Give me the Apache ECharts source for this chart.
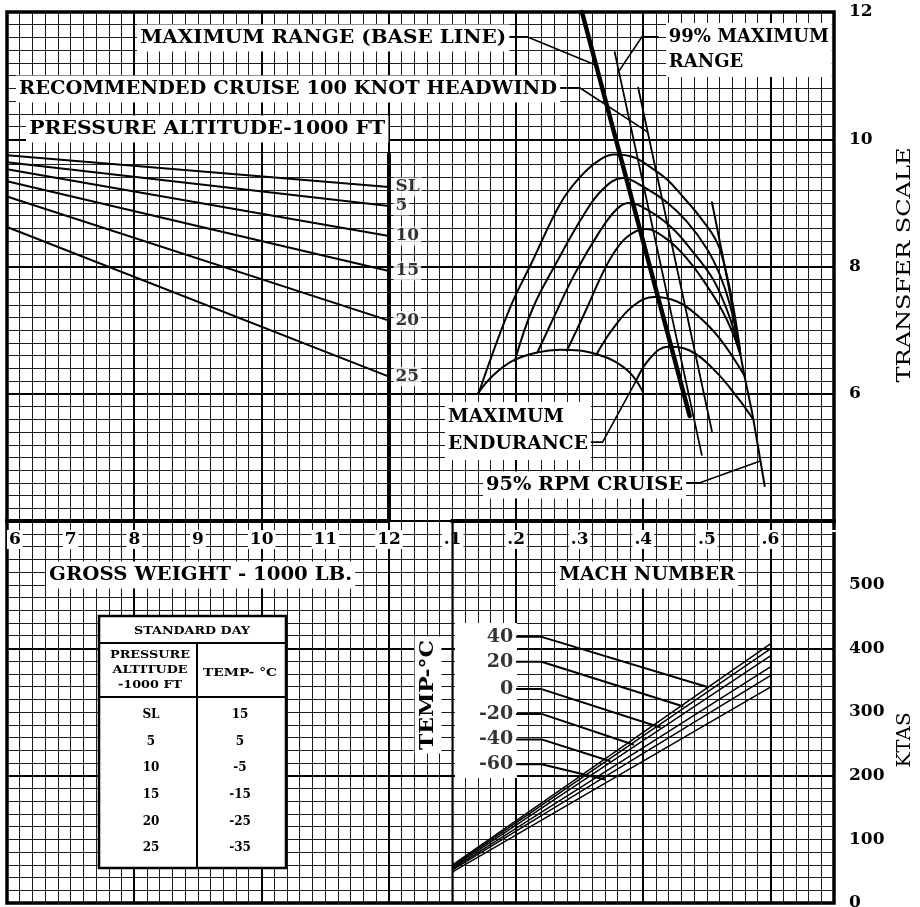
<!DOCTYPE html>
<html>
<head>
<meta charset="utf-8">
<title>Cruise chart</title>
<script src="https://cdn.jsdelivr.net/npm/echarts@6.0.0/dist/echarts.min.js"></script>
<style>
html,body{margin:0;padding:0;background:#fff;}
#chart{width:920px;height:907px;}
</style>
</head>
<body>
<div id="chart"></div>
<script>
// ================= DATA =================
const grossWeightTicks = [6, 7, 8, 9, 10, 11, 12];
const machTicks = [0.1, 0.2, 0.3, 0.4, 0.5, 0.6];
const transferTicks = [6, 8, 10, 12];
const ktasTicks = [0, 100, 200, 300, 400, 500];

// Upper left: pressure altitude lines (transfer scale vs gross weight)
const altitudeNames = ['SL', '5', '10', '15', '20', '25'];
const altitudeGrossWeight = [6, 12];
const altitudeTransferAt6 = [9.75, 9.64, 9.53, 9.34, 9.10, 8.62];
const altitudeTransferAt12 = [9.25, 8.95, 8.48, 7.93, 7.15, 6.27];

// Upper right: cruise arches (Mach, transfer scale)
const archSLMach = [0.1415, 0.190, 0.225, 0.269, 0.300, 0.332, 0.355, 0.384, 0.410, 0.437, 0.462, 0.489, 0.516, 0.531, 0.542, 0.552];
const archSLTransfer = [6.02, 7.34, 8.07, 8.98, 9.40, 9.68, 9.76, 9.72, 9.57, 9.37, 9.10, 8.78, 8.38, 7.88, 7.34, 6.71];
const arch5Mach = [0.198, 0.226, 0.264, 0.305, 0.336, 0.368, 0.399, 0.437, 0.469, 0.500, 0.520, 0.536, 0.552];
const arch5Transfer = [6.52, 7.34, 8.07, 8.79, 9.21, 9.39, 9.26, 9.01, 8.70, 8.28, 7.88, 7.41, 6.68];
const arch10Mach = [0.234, 0.262, 0.292, 0.332, 0.358, 0.376, 0.410, 0.447, 0.478, 0.509, 0.528, 0.542, 0.553];
const arch10Transfer = [6.66, 7.26, 7.88, 8.56, 8.90, 9.00, 8.87, 8.59, 8.23, 7.81, 7.41, 7.02, 6.63];
const arch15Mach = [0.280, 0.311, 0.332, 0.351, 0.374, 0.403, 0.437, 0.469, 0.500, 0.524, 0.541, 0.553];
const arch15Transfer = [6.68, 7.34, 7.81, 8.17, 8.46, 8.59, 8.43, 8.12, 7.70, 7.31, 6.95, 6.60];
const arch20Mach = [0.327, 0.352, 0.384, 0.418, 0.453, 0.484, 0.520, 0.560];
const arch20Transfer = [6.63, 7.02, 7.38, 7.52, 7.45, 7.24, 6.87, 6.27];
const arch25Mach = [0.388, 0.410, 0.439, 0.473, 0.513, 0.549, 0.572];
const arch25Transfer = [6.19, 6.55, 6.74, 6.68, 6.36, 5.93, 5.61];

const maxEnduranceMach = [0.140, 0.164, 0.195, 0.234, 0.269, 0.300, 0.327, 0.355, 0.380, 0.399];
const maxEnduranceTransfer = [6.01, 6.29, 6.52, 6.65, 6.69, 6.68, 6.62, 6.51, 6.32, 6.04];
const rpm95Mach = [0.508, 0.536, 0.552, 0.560, 0.572, 0.591];
const rpm95Transfer = [9.01, 7.60, 6.66, 6.24, 5.66, 4.55];
const maxRangeMach = [0.3035, 0.473];
const maxRangeTransfer = [12.0, 5.65];
const range99Mach = [0.355, 0.492];
const range99Transfer = [11.37, 5.04];
const recCruiseMach = [0.392, 0.508];
const recCruiseTransfer = [10.81, 5.41];

// Leader lines (Mach, transfer)
const leaderMaxRangeMach = [0.182, 0.217, 0.324];
const leaderMaxRangeTransfer = [11.61, 11.61, 11.17];
const leader99Mach = [0.423, 0.398, 0.363];
const leader99Transfer = [11.61, 11.61, 11.09];
const leaderRecMach = [0.269, 0.300, 0.406];
const leaderRecTransfer = [10.81, 10.81, 10.12];
const leaderEnduranceMach = [0.313, 0.336, 0.388];
const leaderEnduranceTransfer = [5.24, 5.24, 6.19];
const leaderRpmMach = [0.458, 0.489, 0.583];
const leaderRpmTransfer = [4.60, 4.60, 4.94];

// Lower right: KTAS vs Mach per temperature
const tempNames = ['40', '20', '0', '-20', '-40', '-60'];
const ktasLineMach = [0.1, 0.6];
const ktasAtMach01 = [60, 58, 56, 54, 52, 49];
const ktasAtMach06 = [407, 399, 388, 371, 357, 339];
// temperature entry lines: label point, knee, end on KTAS line
const tempLabelMach = [0.201, 0.201, 0.201, 0.201, 0.201, 0.201];
const tempKneeMach = [0.240, 0.240, 0.240, 0.240, 0.240, 0.240];
const tempLabelKtas = [418, 379, 336, 297, 257, 218];
const tempEndMach = [0.502, 0.462, 0.426, 0.384, 0.347, 0.340];
const tempEndKtas = [339, 309, 276, 249, 223, 194];

// Frames
const frameTLGrossWeight = [12, 12, 6];
const frameTLTransfer = [9.75, 4, 4];
const frameBRMach = [0.1, 0.7];
const frameBRKtas = [600, 600];
const frameBRLeftMach = [0.1, 0.1];
const frameBRLeftKtas = [0, 600];

// Standard day table
const tableAltitudes = ['SL', '5', '10', '15', '20', '25'];
const tableTemps = ['15', '5', '-5', '-15', '-25', '-35'];

// ================= CHART =================
const FONT = '"DejaVu Serif", "Liberation Serif", serif';
const chart = echarts.init(document.getElementById('chart'), null, {renderer: 'canvas', width: 920, height: 907});

const measureCtx = document.createElement('canvas').getContext('2d');
function textW(t, font) { measureCtx.font = font; return measureCtx.measureText(t).width; }

function label(text, x, y, width, o) {
  o = o || {};
  const size = o.size || 19;
  const font = (o.weight || 'bold') + ' ' + size + 'px ' + FONT;
  const lines = text.split('\n');
  const w = Math.max.apply(null, lines.map(l => textW(l, font)));
  const s = width / w;
  return {
    type: 'text', x: x, y: y, scaleX: s, rotation: o.rotation || 0, z: 100,
    style: {
      text: text, font: font, fill: '#000',
      textAlign: o.align || 'left', align: o.align || 'left',
      textVerticalAlign: 'middle', verticalAlign: 'middle',
      lineHeight: o.lh || size * 1.2,
      backgroundColor: o.bg === false ? null : '#fff',
      padding: o.pad || [2, 3]
    }
  };
}

const zip = (xs, ys) => xs.map((x, i) => [x, ys[i]]);
function line(name, xs, ys, xi, width, extra) {
  return Object.assign({
    type: 'line', name: name, xAxisIndex: xi, yAxisIndex: xi,
    data: zip(xs, ys), showSymbol: false, symbol: 'none',
    lineStyle: {color: '#000', width: width, cap: 'round', join: 'round'},
    silent: true, animation: false, z: 5, clip: false
  }, extra || {});
}

const series = [];
// Upper-left altitude lines
altitudeNames.forEach((n, i) => {
  series.push(line('alt' + n, altitudeGrossWeight, [altitudeTransferAt6[i], altitudeTransferAt12[i]], 2, 2));
});
series.push({
  type: 'scatter', xAxisIndex: 2, yAxisIndex: 2, symbolSize: 1, clip: false, silent: true,
  itemStyle: {color: 'rgba(0,0,0,0)'}, z: 20,
  data: altitudeNames.map((n, i) => [12, altitudeTransferAt12[i], n]),
  label: {show: true, position: 'right', distance: 4, formatter: p => p.data[2], color: '#000',
          fontFamily: FONT, fontWeight: 'bold', fontSize: 17, backgroundColor: '#fff', padding: [1, 2]}
});
// Frames
series.push(line('frameTL', frameTLGrossWeight, frameTLTransfer, 2, 4, {lineStyle: {color: '#000', width: 4, cap: 'square'}}));
series.push(line('frameBR', frameBRMach, frameBRKtas, 4, 4, {lineStyle: {color: '#000', width: 4, cap: 'square'}}));
series.push(line('frameBRLeft', frameBRLeftMach, frameBRLeftKtas, 4, 2.2));

// Arches
const arches = [[archSLMach, archSLTransfer], [arch5Mach, arch5Transfer], [arch10Mach, arch10Transfer],
                [arch15Mach, arch15Transfer], [arch20Mach, arch20Transfer], [arch25Mach, arch25Transfer]];
arches.forEach((a, i) => series.push(line('arch' + i, a[0], a[1], 3, 2, {smooth: 0.4})));
series.push(line('maxEndurance', maxEnduranceMach, maxEnduranceTransfer, 3, 2, {smooth: 0.4}));
series.push(line('rpm95', rpm95Mach, rpm95Transfer, 3, 2, {smooth: 0.2}));
series.push(line('maxRange', maxRangeMach, maxRangeTransfer, 3, 4.5));
series.push(line('range99', range99Mach, range99Transfer, 3, 1.8));
series.push(line('recCruise', recCruiseMach, recCruiseTransfer, 3, 1.8));
series.push(line('leadMax', leaderMaxRangeMach, leaderMaxRangeTransfer, 3, 1.6));
series.push(line('lead99', leader99Mach, leader99Transfer, 3, 1.6));
series.push(line('leadRec', leaderRecMach, leaderRecTransfer, 3, 1.6));
series.push(line('leadEnd', leaderEnduranceMach, leaderEnduranceTransfer, 3, 1.6));
series.push(line('leadRpm', leaderRpmMach, leaderRpmTransfer, 3, 1.6));

// KTAS lines and temperature lines
tempNames.forEach((n, i) => {
  series.push(line('ktas' + n, ktasLineMach, [ktasAtMach01[i], ktasAtMach06[i]], 4, 1.5));
  series.push(line('temp' + n, [tempLabelMach[i], tempKneeMach[i], tempEndMach[i]],
                   [tempLabelKtas[i], tempLabelKtas[i], tempEndKtas[i]], 4, 2));
});
series.push({
  type: 'scatter', xAxisIndex: 4, yAxisIndex: 4, symbolSize: 1, clip: false, silent: true,
  itemStyle: {color: 'rgba(0,0,0,0)'}, z: 20,
  data: tempNames.map((n, i) => [tempLabelMach[i], tempLabelKtas[i], n]),
  label: {show: true, position: 'left', distance: 3, formatter: p => p.data[2], color: '#000',
          fontFamily: FONT, fontWeight: 'bold', fontSize: 19}
});

const hidden = {axisLine: {show: false}, axisTick: {show: false}, axisLabel: {show: false}, splitLine: {show: false}};
const axisLabelStyle = {color: '#000', fontFamily: FONT, fontWeight: 'bold', fontSize: 17, backgroundColor: '#fff', padding: [1, 2]};

const option = {
  animation: false,
  backgroundColor: '#fff',
  textStyle: {fontFamily: FONT},
  grid: [
    {left: 7, top: 12, width: 827, height: 891, show: true, borderColor: '#000', borderWidth: 3.5, backgroundColor: 'transparent', outerBoundsMode: 'none'},
    {left: 7, top: 12, width: 382, height: 509, outerBoundsMode: 'none'},
    {left: 389, top: 12, width: 445, height: 509, outerBoundsMode: 'none'},
    {left: 389, top: 521, width: 445, height: 382, outerBoundsMode: 'none'}
  ],
  xAxis: [
    Object.assign({}, hidden, {gridIndex: 0, type: 'value', min: 0, max: 65, interval: 1, position: 'bottom',
      splitLine: {show: true, lineStyle: {color: '#1c1c1c', width: 1}}}),
    Object.assign({}, hidden, {gridIndex: 0, type: 'value', min: 0, max: 65, interval: 10, position: 'top',
      splitLine: {show: true, lineStyle: {color: '#000', width: 2}}}),
    Object.assign({}, hidden, {gridIndex: 1, type: 'value', min: 6, max: 12, interval: 1, position: 'bottom',
      axisLabel: Object.assign({show: true, margin: 9, alignMinLabel: 'left', showMinLabel: true, showMaxLabel: true,
        formatter: v => grossWeightTicks.indexOf(Math.round(v)) >= 0 ? String(Math.round(v)) : ''}, axisLabelStyle)}),
    Object.assign({}, hidden, {gridIndex: 2, type: 'value', min: 0, max: 0.7, interval: 0.1, position: 'bottom',
      axisLabel: Object.assign({show: true, margin: 9, showMinLabel: true, showMaxLabel: true,
        formatter: v => machTicks.some(t => Math.abs(t - v) < 1e-6) ? '.' + Math.round(v * 10) : ''}, axisLabelStyle)}),
    Object.assign({}, hidden, {gridIndex: 3, type: 'value', min: 0, max: 0.7, interval: 0.1, position: 'bottom'})
  ],
  yAxis: [
    Object.assign({}, hidden, {gridIndex: 0, type: 'value', min: 0, max: 70, interval: 1, inverse: true, position: 'left',
      splitLine: {show: true, lineStyle: {color: '#1c1c1c', width: 1}}}),
    Object.assign({}, hidden, {gridIndex: 0, type: 'value', min: 0, max: 70, interval: 10, inverse: true, position: 'right',
      splitLine: {show: true, lineStyle: {color: '#000', width: 2}}}),
    Object.assign({}, hidden, {gridIndex: 1, type: 'value', min: 4, max: 12, interval: 2, position: 'left'}),
    Object.assign({}, hidden, {gridIndex: 2, type: 'value', min: 4, max: 12, interval: 2, position: 'right',
      axisLabel: Object.assign({show: true, margin: 13, showMinLabel: true, showMaxLabel: true,
        formatter: v => transferTicks.indexOf(Math.round(v)) >= 0 ? String(Math.round(v)) : ''}, axisLabelStyle, {backgroundColor: null})}),
    Object.assign({}, hidden, {gridIndex: 3, type: 'value', min: 0, max: 600, interval: 100, position: 'right',
      axisLabel: Object.assign({show: true, margin: 13, showMinLabel: true, showMaxLabel: true,
        formatter: v => ktasTicks.indexOf(Math.round(v)) >= 0 ? String(Math.round(v)) : ''}, axisLabelStyle, {backgroundColor: null})})
  ],
  series: series
};

// Annotation text and table
const g = [];
g.push(label('MAXIMUM RANGE (BASE LINE)', 137, 38, 366));
g.push(label('99% MAXIMUM\nRANGE', 666, 50, 160, {lh: 25}));
g.push(label('RECOMMENDED CRUISE 100 KNOT HEADWIND', 16, 89, 538));
g.push(label('PRESSURE ALTITUDE-1000 FT', 26, 129, 356));
g.push(label('MAXIMUM\nENDURANCE', 445, 431, 140, {lh: 27}));
g.push(label('95% RPM CRUISE', 483, 485, 197));
g.push(label('GROSS WEIGHT - 1000 LB.', 46, 575, 303));
g.push(label('MACH NUMBER', 556, 575, 176));
g.push(label('TEMP-°C', 428, 695, 110, {rotation: Math.PI / 2, align: 'center'}));
g.push(label('TRANSFER SCALE', 905, 265, 235, {rotation: Math.PI / 2, align: 'center', bg: false, weight: 'normal'}));
g.push(label('KTAS', 905, 740, 55, {rotation: Math.PI / 2, align: 'center', bg: false, weight: 'normal'}));
// white area behind temperature labels
g.push({type: 'rect', shape: {x: 455, y: 623, width: 62, height: 155}, style: {fill: '#fff'}, z: 3});

// Table
const tb = {x: 99, y: 616, w: 187, h: 252, r1: 643, r2: 697, c: 197};
g.push({type: 'rect', shape: {x: tb.x, y: tb.y, width: tb.w, height: tb.h}, style: {fill: '#fff', stroke: '#000', lineWidth: 2.5}, z: 90});
g.push({type: 'line', shape: {x1: tb.x, y1: tb.r1, x2: tb.x + tb.w, y2: tb.r1}, style: {stroke: '#000', lineWidth: 2}, z: 91});
g.push({type: 'line', shape: {x1: tb.x, y1: tb.r2, x2: tb.x + tb.w, y2: tb.r2}, style: {stroke: '#000', lineWidth: 2}, z: 91});
g.push({type: 'line', shape: {x1: tb.c, y1: tb.r1, x2: tb.c, y2: tb.y + tb.h}, style: {stroke: '#000', lineWidth: 2}, z: 91});
function tcell(text, x, y, size, w, lh) {
  const font = 'bold ' + size + 'px ' + FONT;
  const el = {type: 'text', x: x, y: y, z: 95,
    style: {text: text, font: font, fill: '#000', textAlign: 'center', align: 'center',
            textVerticalAlign: 'middle', verticalAlign: 'middle', lineHeight: lh || size * 1.2}};
  if (w) { const mw = Math.max.apply(null, text.split('\n').map(l => textW(l, font))); el.scaleX = w / mw; }
  return el;
}
g.push(tcell('STANDARD DAY', 192, 631, 11, 116));
g.push(tcell('PRESSURE\nALTITUDE\n-1000 FT', 150, 670, 11, 80, 15));
g.push(tcell('TEMP- °C', 240, 673, 11, 74));
tableAltitudes.forEach((a, i) => {
  g.push(tcell(a, 151, 715 + i * 26.6, 12));
  g.push(tcell(tableTemps[i], 240, 715 + i * 26.6, 12));
});
option.graphic = {elements: g};

chart.setOption(option);
</script>
</body>
</html>
